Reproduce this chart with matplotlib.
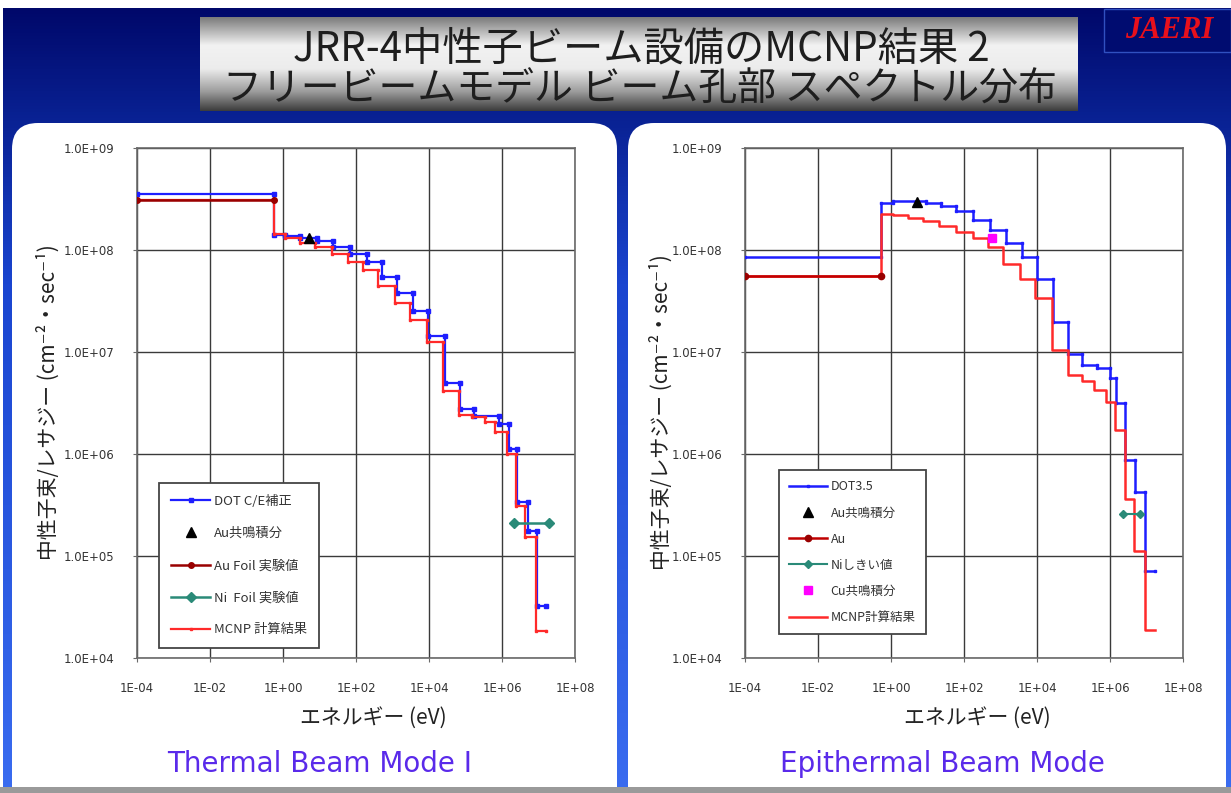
import numpy as np
import matplotlib
matplotlib.use("Agg")
import matplotlib.pyplot as plt
from matplotlib.patches import FancyBboxPatch, Rectangle
from matplotlib.colors import LinearSegmentedColormap

plt.rcParams['font.family'] = ['Noto Sans CJK JP', 'DejaVu Sans']

# ---------------- data ----------------
title_line1 = "JRR-4中性子ビーム設備のMCNP結果 2"
title_line2 = "フリービームモデル ビーム孔部 スペクトル分布"
x_ticks = [1e-4, 1e-2, 1e0, 1e2, 1e4, 1e6, 1e8]
x_tick_labels = ["1E-04", "1E-02", "1E+00", "1E+02", "1E+04", "1E+06", "1E+08"]
y_ticks = [1e4, 1e5, 1e6, 1e7, 1e8, 1e9]
y_tick_labels = ["1.0E+04", "1.0E+05", "1.0E+06", "1.0E+07", "1.0E+08", "1.0E+09"]
x_label = "エネルギー (eV)"
y_label = "中性子束/レサジー (cm⁻²・sec⁻¹)"

# Thermal beam mode I
th_dot_edges = [1e-4, 0.55, 1.15, 2.95, 8.5, 24, 69, 200, 510, 1300, 3700, 9600,
                2.75e4, 7.1e4, 1.75e5, 8.3e5, 1.6e6, 2.6e6, 5.0e6, 8.9e6, 1.65e7]
th_dot_vals = [3.57e8, 1.40e8, 1.38e8, 1.32e8, 1.22e8, 1.07e8, 9.2e7, 7.6e7, 5.4e7, 3.8e7,
               2.5e7, 1.43e7, 4.97e6, 2.75e6, 2.35e6, 1.95e6, 1.12e6, 3.4e5, 1.75e5, 3.2e4]
th_mcnp_edges = [1e-4, 0.55, 1.15, 2.95, 7.6, 22, 62, 160, 410, 1170, 3000, 8700,
                 2.45e4, 6.5e4, 1.5e5, 3.5e5, 6.6e5, 1.4e6, 2.4e6, 4.3e6, 8.3e6, 1.65e7]
th_mcnp_vals = [3.09e8, 1.42e8, 1.32e8, 1.18e8, 1.07e8, 9.2e7, 7.7e7, 6.4e7, 4.4e7, 3.0e7,
                2.06e7, 1.25e7, 4.17e6, 2.4e6, 2.3e6, 2.06e6, 1.65e6, 1.0e6, 3.1e5, 1.55e5, 1.85e4]
th_au_res_E = [5.0]
th_au_res_val = [1.3e8]
th_au_foil_E = [1e-4, 0.55]
th_au_foil_val = [3.09e8, 3.09e8]
th_ni_E = [2.1e6, 1.9e7]
th_ni_val = [2.1e5, 2.1e5]
th_labels = ["DOT C/E補正", "Au共鳴積分", "Au Foil 実験値", "Ni  Foil 実験値", "MCNP 計算結果"]

# Epithermal beam mode
ep_dot_edges = [1e-4, 0.54, 1.12, 9.3, 24, 62, 178, 510, 1450, 3800, 9800, 2.8e4,
                7.2e4, 1.66e5, 4.4e5, 1.0e6, 1.48e6, 2.57e6, 4.8e6, 8.9e6, 1.7e7]
ep_dot_vals = [8.5e7, 2.89e8, 3.0e8, 2.89e8, 2.68e8, 2.42e8, 1.96e8, 1.58e8, 1.16e8, 8.5e7,
               5.2e7, 1.95e7, 9.6e6, 7.4e6, 7.0e6, 5.5e6, 3.15e6, 8.7e5, 4.2e5, 7.2e4]
ep_mcnp_edges = [1e-4, 0.54, 1.12, 2.9, 7.4, 21, 62, 178, 460, 1170, 3400, 8700,
                 2.5e4, 7.2e4, 1.66e5, 3.6e5, 7.8e5, 1.4e6, 2.5e6, 4.5e6, 8.9e6, 1.7e7]
ep_mcnp_vals = [5.5e7, 2.24e8, 2.2e8, 2.07e8, 1.92e8, 1.71e8, 1.50e8, 1.30e8, 1.06e8, 7.25e7,
                5.2e7, 3.4e7, 1.04e7, 5.9e6, 5.2e6, 4.2e6, 3.2e6, 1.7e6, 3.6e5, 1.12e5, 1.87e4]
ep_au_res_E = [5.1]
ep_au_res_val = [2.94e8]
ep_au_E = [1e-4, 0.54]
ep_au_val = [5.5e7, 5.5e7]
ep_ni_E = [2.3e6, 6.5e6]
ep_ni_val = [2.6e5, 2.6e5]
ep_cu_E = [600]
ep_cu_val = [1.3e8]
ep_labels = ["DOT3.5", "Au共鳴積分", "Au", "Niしきい値", "Cu共鳴積分", "MCNP計算結果"]

subtitle_left = "Thermal Beam Mode I"
subtitle_right = "Epithermal Beam Mode"

# ---------------- figure ----------------
W, H = 1231, 793
fig = plt.figure(figsize=(W / 100, H / 100), dpi=100)
fig.patch.set_facecolor('white')

bg = fig.add_axes([0, 0, 1, 1])
bg.set_xlim(0, W)
bg.set_ylim(H, 0)
bg.axis('off')

# blue gradient slide background
blue_cmap = LinearSegmentedColormap.from_list(
    'bl', [(0.0, '#00086a'), (0.15, '#0a2396'), (0.35, '#1a45d0'), (1.0, '#3a6cf0')])
grad = np.linspace(0, 1, 256).reshape(-1, 1)
bg.imshow(grad, cmap=blue_cmap, aspect='auto', extent=[3, W, H, 8], zorder=0)

# title box with metallic gradient
gray_cmap = LinearSegmentedColormap.from_list(
    'gr', [(0.0, '#7a7a7a'), (0.3, '#f2f2f2'), (0.55, '#ececec'), (0.8, '#9a9a9a'), (1.0, '#3c3c3c')])
bg.imshow(grad, cmap=gray_cmap, aspect='auto', extent=[200, 1078, 111, 17], zorder=1)
bg.text(641, 49, title_line1, ha='center', va='center', fontsize=29, color='#1e1e1e', zorder=2)
bg.text(640, 90, title_line2, ha='center', va='center', fontsize=28, color='#1e1e1e', zorder=2)

# JAERI logo
bg.add_patch(Rectangle((1104, 9), 127, 43, facecolor='#000c70', edgecolor='#3050c0', lw=1, zorder=1))
bg.text(1169, 31, "JAERI", ha='center', va='center', fontsize=22, color='#e8101c',
        family=['Liberation Serif', 'DejaVu Serif'], style='italic', weight='bold', zorder=2)

# white rounded panels
for x0, x1 in [(12, 617), (628, 1226)]:
    bg.add_patch(FancyBboxPatch((x0, 123), x1 - x0, 700,
                                boxstyle="round,pad=0,rounding_size=26",
                                facecolor='white', edgecolor='none', zorder=1))
bg.add_patch(Rectangle((0, 787), W, 6, facecolor='#9a9a9a', edgecolor='none', zorder=1))

# labels in slide coordinates
bg.text(373, 718, x_label, ha='center', va='center', fontsize=15, color='#222222', zorder=2)
bg.text(977, 718, x_label, ha='center', va='center', fontsize=15, color='#222222', zorder=2)
bg.text(48, 402, y_label, ha='center', va='center', rotation=90, fontsize=15, color='#222222', zorder=2)
bg.text(661, 412, y_label, ha='center', va='center', rotation=90, fontsize=15, color='#222222', zorder=2)
bg.text(320, 764, subtitle_left, ha='center', va='center', fontsize=20, color='#5a2aea',
        family='DejaVu Sans', zorder=2)
bg.text(942, 764, subtitle_right, ha='center', va='center', fontsize=20, color='#5a2aea',
        family='DejaVu Sans', zorder=2)


def steps(edges, vals):
    e = np.asarray(edges, dtype=float)
    v = np.asarray(vals, dtype=float)
    return np.repeat(e, 2)[1:-1], np.repeat(v, 2)


def setup_axes(rect):
    ax = fig.add_axes(rect)
    ax.set_xscale('log')
    ax.set_yscale('log')
    ax.set_xlim(1e-4, 1e8)
    ax.set_ylim(1e4, 1e9)
    ax.set_xticks(x_ticks)
    ax.set_xticklabels(x_tick_labels)
    ax.set_yticks(y_ticks)
    ax.set_yticklabels(y_tick_labels)
    ax.minorticks_off()
    ax.grid(True, which='major', color='#3a3a3a', lw=1.0)
    ax.set_axisbelow(True)
    for s in ax.spines.values():
        s.set_color('#6a6a6a')
        s.set_linewidth(1.2)
    ax.tick_params(axis='both', length=3, color='#6a6a6a', labelsize=8.5, labelcolor='#333333')
    ax.tick_params(axis='x', pad=14)
    ax.tick_params(axis='y', pad=13)
    for lab in ax.get_xticklabels() + ax.get_yticklabels():
        lab.set_family('DejaVu Sans')
    return ax


blue = '#1e1eff'
red = '#ff2a2a'
dred = '#990000'
teal = '#2a8a78'

# ---- left: thermal ----
axL = setup_axes([137 / W, 1 - 658 / H, 438 / W, 510 / H])
x, y = steps(th_dot_edges, th_dot_vals)
h1, = axL.plot(x, y, color=blue, lw=1.6, marker='s', ms=2.6, label=th_labels[0], zorder=3)
x, y = steps(th_mcnp_edges, th_mcnp_vals)
h5, = axL.plot(x, y, color=red, lw=1.6, marker='s', ms=2.0, label=th_labels[4], zorder=4)
h3, = axL.plot(th_au_foil_E, th_au_foil_val, color=dred, lw=1.8, marker='o', ms=4,
               label=th_labels[2], zorder=5)
h4, = axL.plot(th_ni_E, th_ni_val, color=teal, lw=1.8, marker='D', ms=5, label=th_labels[3], zorder=5)
h2, = axL.plot(th_au_res_E, th_au_res_val, ls='none', marker='^', ms=7, color='black',
               label=th_labels[1], zorder=6)
legL = axL.legend([h1, h2, h3, h4, h5], th_labels, loc='lower left', bbox_to_anchor=(0.035, 0.006),
                  fontsize=9.5, labelspacing=1.45, handlelength=3.0, handletextpad=0.3,
                  borderpad=0.9, fancybox=False, framealpha=1, edgecolor='#444444')
legL.get_frame().set_linewidth(1.3)
for t in legL.get_texts():
    t.set_color('#333333')

# ---- right: epithermal ----
axR = setup_axes([745 / W, 1 - 658 / H, 438 / W, 510 / H])
x, y = steps(ep_dot_edges, ep_dot_vals)
g1, = axR.plot(x, y, color=blue, lw=1.8, marker='s', ms=1.5, label=ep_labels[0], zorder=3)
x, y = steps(ep_mcnp_edges, ep_mcnp_vals)
g6, = axR.plot(x, y, color=red, lw=1.8, label=ep_labels[5], zorder=4)
g3, = axR.plot(ep_au_E, ep_au_val, color='#c00000', lw=1.8, marker='o', ms=4.5, mfc=dred, mec=dred,
               label=ep_labels[2], zorder=5)
g4, = axR.plot(ep_ni_E, ep_ni_val, color=teal, lw=1.5, marker='D', ms=4, label=ep_labels[3], zorder=5)
g2, = axR.plot(ep_au_res_E, ep_au_res_val, ls='none', marker='^', ms=7, color='black',
               label=ep_labels[1], zorder=6)
g5, = axR.plot(ep_cu_E, ep_cu_val, ls='none', marker='s', ms=5.5, color='#ff00ff',
               label=ep_labels[4], zorder=6)
legR = axR.legend([g1, g2, g3, g4, g5, g6], ep_labels, loc='lower left', bbox_to_anchor=(0.064, 0.035),
                  fontsize=9, labelspacing=1.05, handlelength=3.0, handletextpad=0.3,
                  borderpad=0.8, fancybox=False, framealpha=1, edgecolor='#444444')
legR.get_frame().set_linewidth(1.3)
for t in legR.get_texts():
    t.set_color('#333333')

fig.savefig('out.png', dpi=100)
